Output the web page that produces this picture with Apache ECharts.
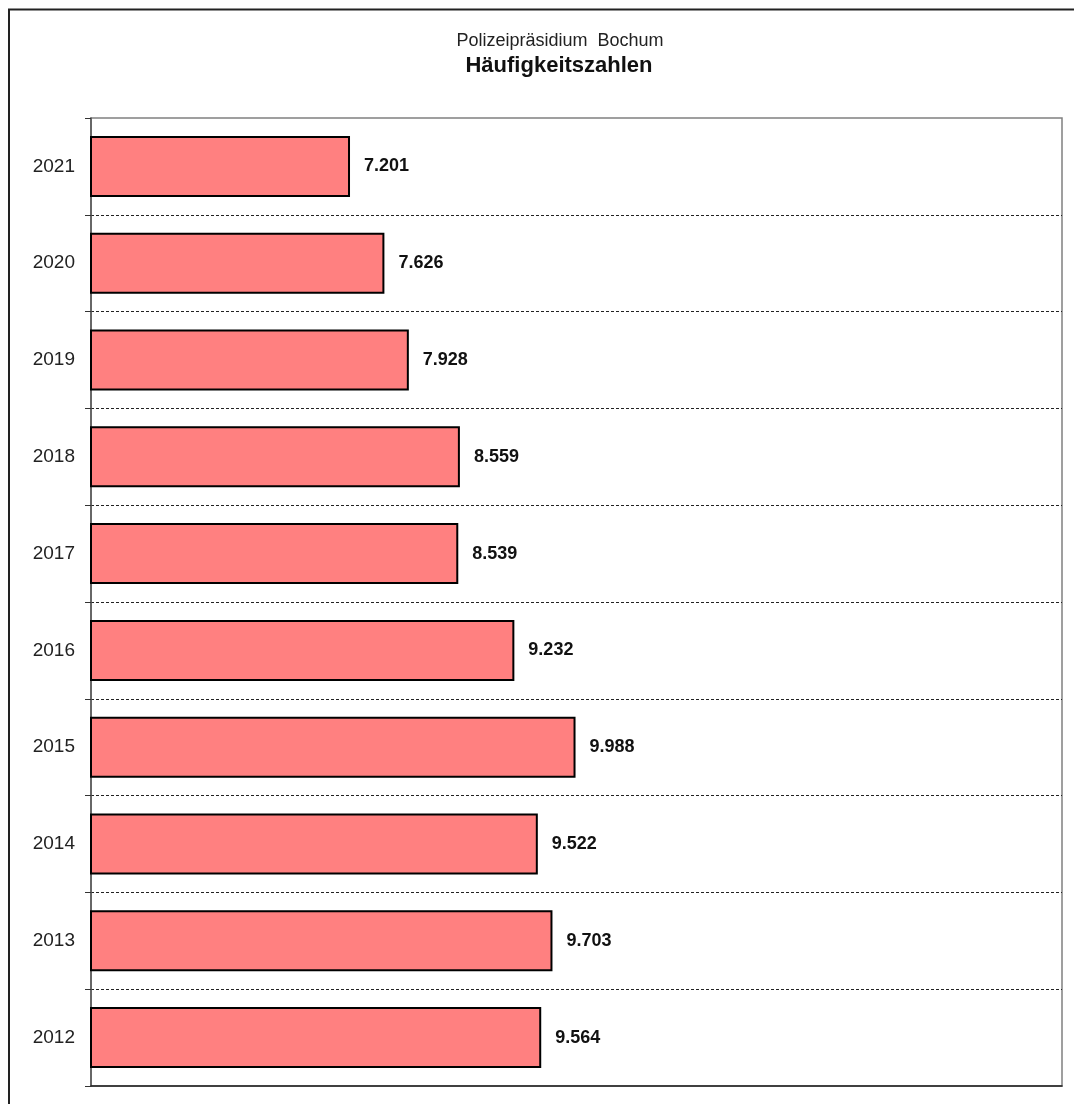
<!DOCTYPE html>
<html><head><meta charset="utf-8">
<script src="https://cdn.jsdelivr.net/npm/echarts@6/dist/echarts.min.js"></script>
<style>html,body{margin:0;padding:0;background:#fff}#c{width:1074px;height:1104px}</style>
</head><body><div id="c"></div>
<script>
const years = ['2012','2013','2014','2015','2016','2017','2018','2019','2020','2021'];
const values = [9.564, 9.703, 9.522, 9.988, 9.232, 8.539, 8.559, 7.928, 7.626, 7.201];
const titleLine1 = 'Polizeipräsidium  Bochum';
const titleLine2 = 'Häufigkeitszahlen';
const font = '"Liberation Sans", Arial, sans-serif';

const splitColors = years.map(() => '#222').concat(['#222']);
splitColors[0] = 'rgba(0,0,0,0)';
splitColors[splitColors.length - 1] = 'rgba(0,0,0,0)';

const chart = echarts.init(document.getElementById('c'), null, {renderer: 'canvas'});
chart.setOption({
  animation: false,
  backgroundColor: '#fff',
  textStyle: {fontFamily: font},
  graphic: [{
    type: 'rect', silent: true, z: -1,
    shape: {x: 9, y: 9.5, width: 1100, height: 1120},
    style: {fill: 'none', stroke: '#222', lineWidth: 2}
  }],
  title: [{
    text: titleLine1, left: 555, top: 27, textAlign: 'center',
    textStyle: {fontSize: 18, fontWeight: 'normal', color: '#222', fontFamily: font}
  }, {
    text: titleLine2, left: 554, top: 50, textAlign: 'center',
    textStyle: {fontSize: 22, fontWeight: 'bold', color: '#111', fontFamily: font}
  }],
  grid: {left: 91, right: 12, top: 118, bottom: 18, show: true, borderColor: '#808080', borderWidth: 1.5, containLabel: false},
  xAxis: {
    type: 'value', min: 4, max: 16, interval: 2,
    axisLine: {show: true, onZero: false, lineStyle: {color: '#222', width: 1.5}},
    axisTick: {show: false}, axisLabel: {show: false}, splitLine: {show: false}
  },
  yAxis: {
    type: 'category', data: years,
    axisLine: {show: true, lineStyle: {color: '#555', width: 1.5}},
    axisTick: {show: true, length: 6, lineStyle: {color: '#333', width: 1}},
    axisLabel: {fontSize: 19, color: '#222', margin: 16, fontFamily: font},
    splitLine: {show: true, lineStyle: {color: splitColors, type: [3, 2], width: 1}}
  },
  series: [{
    type: 'bar', data: values, barCategoryGap: '37%',
    itemStyle: {color: '#FF8080', borderColor: '#000', borderWidth: 2},
    label: {
      show: true, position: 'right', distance: 14,
      fontSize: 18, fontWeight: 'bold', color: '#111', fontFamily: font,
      formatter: p => p.value.toFixed(3)
    }
  }]
});
</script></body></html>
